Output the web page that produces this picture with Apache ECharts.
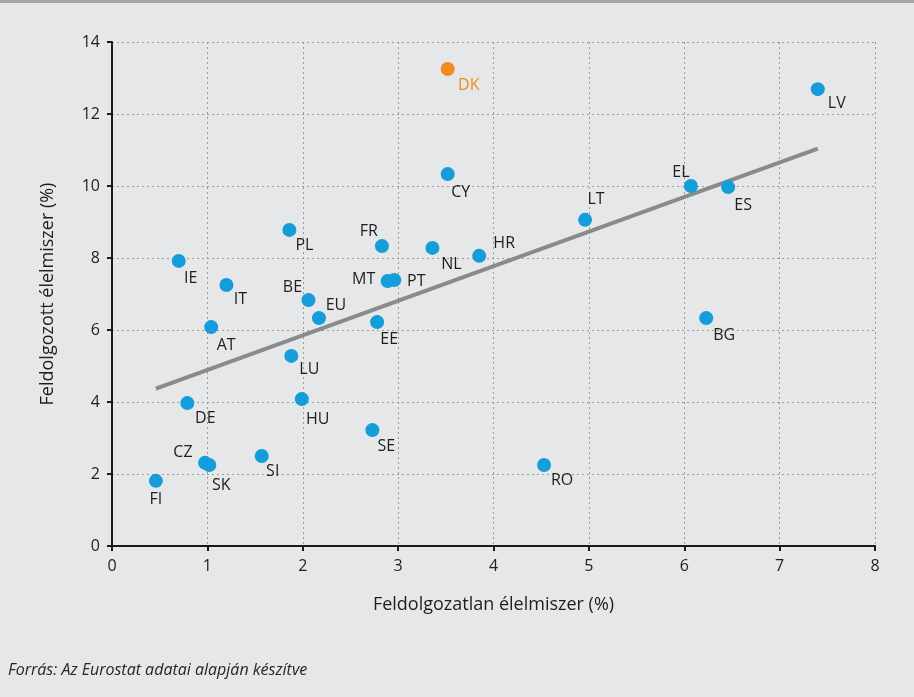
<!DOCTYPE html>
<html><head><meta charset="utf-8">
<script src="https://cdn.jsdelivr.net/npm/echarts@6/dist/echarts.min.js"></script>
<style>html,body{margin:0;padding:0;background:#e6e7e8;}#c{width:914px;height:697px;}</style>
</head><body><div id="c"></div>
<script>
const countries = ['DK','LV','CY','EL','ES','LT','PL','FR','NL','HR','IE','IT','MT','PT','BE','EU','EE','BG','AT','LU','DE','HU','SE','CZ','SK','SI','FI','RO'];
const unprocessed = [3.52,7.40,3.52,6.07,6.46,4.96,1.86,2.83,3.36,3.85,0.70,1.20,2.89,2.96,2.06,2.17,2.78,6.23,1.04,1.88,0.79,1.99,2.73,0.975,1.02,1.57,0.46,4.53];
const processed = [13.25,12.69,10.33,10.0,9.97,9.06,8.78,8.33,8.28,8.06,7.92,7.25,7.36,7.39,6.83,6.33,6.22,6.33,6.08,5.28,3.97,4.08,3.22,2.31,2.25,2.5,1.81,2.25];
const highlighted = ['DK'];
const trendX = [0.46, 7.40];
const trendY = [4.37, 11.04];
const xTicks = [0,1,2,3,4,5,6,7,8];
const yTicks = [0,2,4,6,8,10,12,14];

// label offsets (style only)
const labelOffsets = {DK:[21,16],LV:[19,14],CY:[13,18],EL:[-10,-14],ES:[15,18],LT:[11,-20],PL:[15,16],FR:[-13,-15],NL:[19,17],HR:[25,-12],IE:[12,18],IT:[14,14],MT:[-24,-2],PT:[22,1],BE:[-16,-13],EU:[17,-13],EE:[12,17],BG:[18,17],AT:[15,18],LU:[18,14],DE:[18,15],HU:[16,20],SE:[14,16],CZ:[-22,-10],SK:[12,20],SI:[11,15],FI:[0,19],RO:[18,15]};

const BLUE='#149dda', ORANGE='#f28a20';
const FONT='"Open Sans", sans-serif';
function mk(i){
  const c=countries[i]; const hl=highlighted.includes(c);
  return {value:[unprocessed[i],processed[i]], name:c,
    itemStyle:{color: hl?ORANGE:BLUE, opacity:1},
    label:{show:true, formatter:c, position:'inside', offset:labelOffsets[c]||[15,15], align:'center', verticalAlign:'middle',
      color: hl?ORANGE:'#1e1e1e', fontFamily:FONT, fontSize:16}};
}
const data = countries.map((c,i)=>mk(i));

const chart = echarts.init(document.getElementById('c'));
chart.setOption({
  backgroundColor:'#e6e7e8',
  animation:false,
  graphic:[{type:'rect',shape:{x:0,y:0,width:914,height:3},style:{fill:'#a6a6a6'}},
    {type:'text',left:8,top:662,style:{text:'Forrás: Az Eurostat adatai alapján készítve',font:'italic 16px "Open Sans", sans-serif',fill:'#262626'}}],
  grid:{left:112,right:39,top:42,bottom:151},
  xAxis:{type:'value',min:xTicks[0],max:xTicks[xTicks.length-1],interval:1,
    name:'Feldolgozatlan élelmiszer (%)',nameLocation:'middle',nameGap:50,
    nameTextStyle:{fontFamily:FONT,fontSize:18,color:'#1e1e1e'},
    axisLine:{lineStyle:{color:'#1a1a1a',width:2}},
    axisTick:{show:true,length:5,lineStyle:{color:'#1a1a1a',width:2}},
    axisLabel:{margin:12,fontFamily:FONT,fontSize:16,color:'#1e1e1e'},
    splitLine:{show:true,lineStyle:{color:'#9a9a9a',type:[2,3],width:1}}},
  yAxis:{type:'value',min:yTicks[0],max:yTicks[yTicks.length-1],interval:2,
    name:'Feldolgozott élelmiszer (%)',nameLocation:'middle',nameGap:55,
    nameTextStyle:{fontFamily:FONT,fontSize:18,color:'#1e1e1e'},
    axisLine:{show:true,lineStyle:{color:'#1a1a1a',width:2}},
    axisTick:{show:true,length:5,lineStyle:{color:'#1a1a1a',width:2}},
    axisLabel:{margin:12,fontFamily:FONT,fontSize:16,color:'#1e1e1e'},
    splitLine:{show:true,lineStyle:{color:'#9a9a9a',type:[2,3],width:1}}},
  series:[
    {type:'line',data:trendX.map((x,i)=>[x,trendY[i]]),symbol:'none',lineStyle:{color:'#8a8a8a',width:4},z:2,silent:true},
    {type:'scatter',data:data,symbolSize:14,z:3}
  ]
});
</script></body></html>
